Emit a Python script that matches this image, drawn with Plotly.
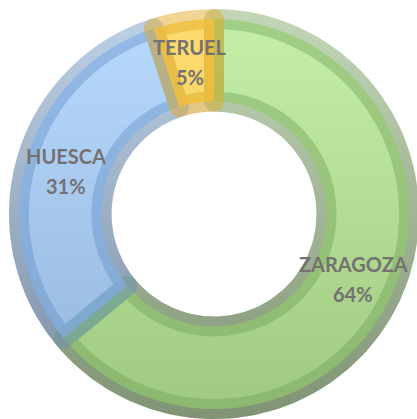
import numpy as np
import plotly.graph_objects as go

# ---- data ----
provinces = ["ZARAGOZA", "HUESCA", "TERUEL"]
shares = [64, 31, 5]

# ---- styling ----
fill_colors = ["rgba(168,232,122,0.66)", "rgba(150,200,255,0.68)", "rgba(255,210,70,0.78)"]
line_colors = ["rgba(112,160,85,0.42)", "rgba(95,140,195,0.40)", "rgba(225,170,35,0.48)"]
text_color = "rgb(118,113,113)"

W, H = 417, 419
cx, cy = 214, 214          # donut centre in px
R = 195                    # pie radius in px (stroke adds 10 px outside)
hole = 0.577
stroke = 20

fig = go.Figure()

# gradient backdrop ring (light at top, darker at bottom) seen through the slices
t = np.linspace(0, 2 * np.pi, 361)
r_out = (R + stroke / 2) / R
r_in = (hole * R - stroke / 2) / R
xs = np.concatenate([r_out * np.cos(t), r_in * np.cos(t[::-1])])
ys = np.concatenate([r_out * np.sin(t), r_in * np.sin(t[::-1])])
fig.add_trace(go.Scatter(
    x=xs, y=ys, mode="lines", line=dict(width=0),
    fill="toself",
    fillgradient=dict(type="vertical", start=-r_out, stop=r_out,
                      colorscale=[[0, "rgb(140,140,140)"], [1, "rgb(255,255,255)"]]),
    hoverinfo="skip", showlegend=False,
))

fig.add_trace(go.Pie(
    labels=provinces,
    values=shares,
    sort=False,
    direction="clockwise",
    rotation=0,
    hole=hole,
    marker=dict(colors=fill_colors, line=dict(color=line_colors, width=stroke)),
    textinfo="none",
    domain=dict(x=[(cx - R) / W, (cx + R) / W], y=[1 - (cy + R) / H, 1 - (cy - R) / H]),
    hoverinfo="skip",
    showlegend=False,
))

# labels at the middle of each ring segment (positions derived from the data)
total = sum(shares)
r_mid = ((R + stroke / 2) + (hole * R - stroke / 2)) / 2 / R
cum = 0
font = dict(family="Lato", size=20, color=text_color, weight=700)
for name, v in zip(provinces, shares):
    mid = (cum + v / 2) / total * 2 * np.pi
    cum += v
    ax_x, ax_y = r_mid * np.sin(mid), r_mid * np.cos(mid)
    fig.add_annotation(x=ax_x, y=ax_y, text=name, showarrow=False, font=font, yshift=15)
    fig.add_annotation(x=ax_x, y=ax_y, text=f"{round(v / total * 100)}%", showarrow=False,
                       font=font, yshift=-15)

fig.update_layout(
    width=W, height=H,
    margin=dict(l=0, r=0, t=0, b=0),
    paper_bgcolor="white", plot_bgcolor="rgba(0,0,0,0)",
    xaxis=dict(range=[-cx / R, (W - cx) / R], visible=False, fixedrange=True),
    yaxis=dict(range=[-(H - cy) / R, cy / R], visible=False, fixedrange=True),
    showlegend=False,
)

fig.write_html("out.html", config={"displayModeBar": False},
               post_script="document.body.style.margin='0';document.body.style.overflow='hidden';")
